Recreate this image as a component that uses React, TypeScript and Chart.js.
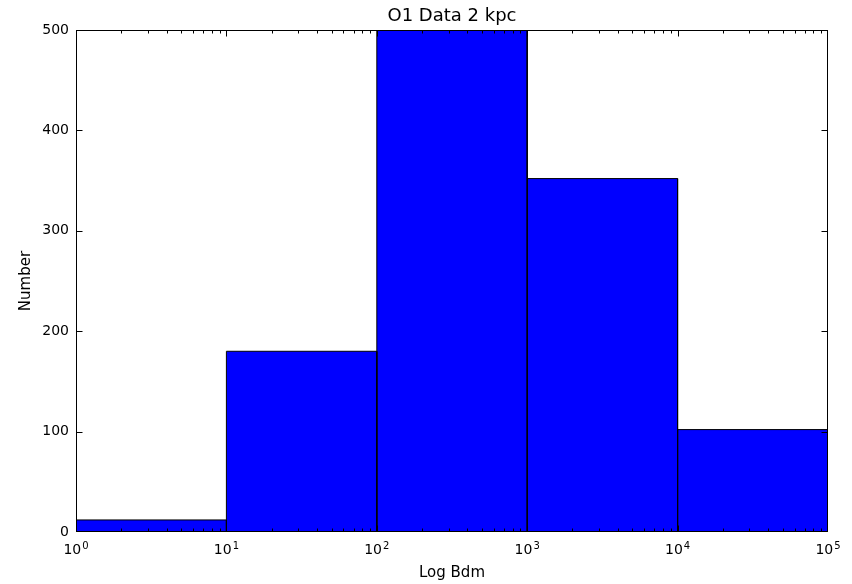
import React, { useEffect, useRef } from "react";
import { Chart, registerables } from "chart.js";

Chart.register(...registerables);

const binEdges = [1, 10, 100, 1000, 10000, 100000];
const counts = [12, 180, 500, 352, 102];
const xTickValues = [1, 10, 100, 1000, 10000, 100000];
const xTickExponents = ["0", "1", "2", "3", "4", "5"];
const yTickValues = [0, 100, 200, 300, 400, 500];

const FONT = "'DejaVu Sans', sans-serif";

const framePlugin = {
  id: "mplFrame",
  afterDatasetsDraw(chart: any) {
    const { ctx, chartArea: a, scales } = chart;
    const x = scales.x;
    const y = scales.y;
    ctx.save();
    ctx.strokeStyle = "#000";
    ctx.lineWidth = 1;
    const L = Math.round(a.left) + 0.5;
    const R = Math.round(a.right) - 0.5;
    const T = Math.round(a.top) + 0.5;
    const B = Math.round(a.bottom) - 0.5;
    const clampX = (p: number) => Math.min(R, Math.max(L, p));
    const clampY = (p: number) => Math.min(B, Math.max(T, p));
    ctx.beginPath();
    const maxV = xTickValues[xTickValues.length - 1];
    for (let d = 0; d < xTickValues.length; d++) {
      const base = xTickValues[d];
      for (let m = 1; m <= 9; m++) {
        const v = base * m;
        if (v > maxV) break;
        const px = clampX(Math.round(x.getPixelForValue(v)) + 0.5);
        const len = m === 1 ? 6 : 3;
        ctx.moveTo(px, B);
        ctx.lineTo(px, B - len);
        ctx.moveTo(px, T);
        ctx.lineTo(px, T + len);
      }
    }
    for (const v of yTickValues) {
      const py = clampY(Math.round(y.getPixelForValue(v)) + 0.5);
      ctx.moveTo(L, py);
      ctx.lineTo(L + 6, py);
      ctx.moveTo(R, py);
      ctx.lineTo(R - 6, py);
    }
    ctx.stroke();
    ctx.strokeRect(L, T, R - L, B - T);

    // x tick labels as 10 with raised exponent (mathtext-like)
    ctx.fillStyle = "#000";
    ctx.textBaseline = "alphabetic";
    ctx.textAlign = "left";
    const baseY = a.bottom + 22;
    xTickValues.forEach((v, i) => {
      const px = x.getPixelForValue(v);
      ctx.font = `14px ${FONT}`;
      const wBase = ctx.measureText("10").width;
      ctx.font = `10px ${FONT}`;
      const wExp = ctx.measureText(xTickExponents[i]).width;
      const start = px - (wBase + wExp + 1) / 2;
      ctx.font = `14px ${FONT}`;
      ctx.fillText("10", start, baseY);
      ctx.font = `10px ${FONT}`;
      ctx.fillText(xTickExponents[i], start + wBase + 1, baseY - 5);
    });
    ctx.restore();
  },
};

export default function App() {
  const ref = useRef<HTMLCanvasElement | null>(null);
  useEffect(() => {
    if (!ref.current) return;
    Chart.defaults.font.family = FONT;
    Chart.defaults.color = "#000";
    const datasets = counts.map((c, i) => ({
      data: [
        { x: binEdges[i], y: 0 },
        { x: binEdges[i], y: c },
        { x: binEdges[i + 1], y: c },
        { x: binEdges[i + 1], y: 0 },
      ],
      fill: "origin",
      backgroundColor: "#0000ff",
      borderColor: "#000000",
      borderWidth: 1,
      pointRadius: 0,
      tension: 0,
    }));
    const chart = new Chart(ref.current, {
      type: "line",
      data: { datasets: datasets as any },
      options: {
        animation: false,
        responsive: true,
        maintainAspectRatio: false,
        layout: { padding: { left: 0, right: 24, top: 0, bottom: 0 } },
        plugins: {
          legend: { display: false },
          tooltip: { enabled: false },
          title: {
            display: true,
            text: "O1 Data 2 kpc",
            fullSize: false,
            font: { size: 18, weight: "normal" },
            color: "#000",
            padding: { top: 6, bottom: 2.4 },
          },
        },
        scales: {
          x: {
            type: "logarithmic",
            min: 1,
            max: 100000,
            grid: { display: false, drawTicks: false },
            border: { display: false },
            afterBuildTicks: (s: any) => {
              s.ticks = xTickValues.map((v) => ({ value: v }));
            },
            afterFit: (s: any) => {
              s.height = 52;
            },
            ticks: { display: false, autoSkip: false },
            title: {
              display: true,
              text: "Log Bdm",
              font: { size: 15 },
              padding: { top: 0, bottom: 1.5 },
            },
          },
          y: {
            type: "linear",
            min: 0,
            max: 500,
            grid: { display: false, drawTicks: false },
            border: { display: false },
            afterBuildTicks: (s: any) => {
              s.ticks = yTickValues.map((v) => ({ value: v }));
            },
            afterFit: (s: any) => {
              s.width = 76;
            },
            ticks: { padding: 7, font: { size: 14 } },
            title: {
              display: true,
              text: "Number",
              font: { size: 15 },
              padding: { top: 17, bottom: 0 },
            },
          },
        },
      },
      plugins: [framePlugin],
    });
    return () => chart.destroy();
  }, []);
  return (
    <div style={{ position: "fixed", left: 0, top: 0, width: 852, height: 584, background: "#fff" }}>
      <canvas ref={ref} />
    </div>
  );
}
